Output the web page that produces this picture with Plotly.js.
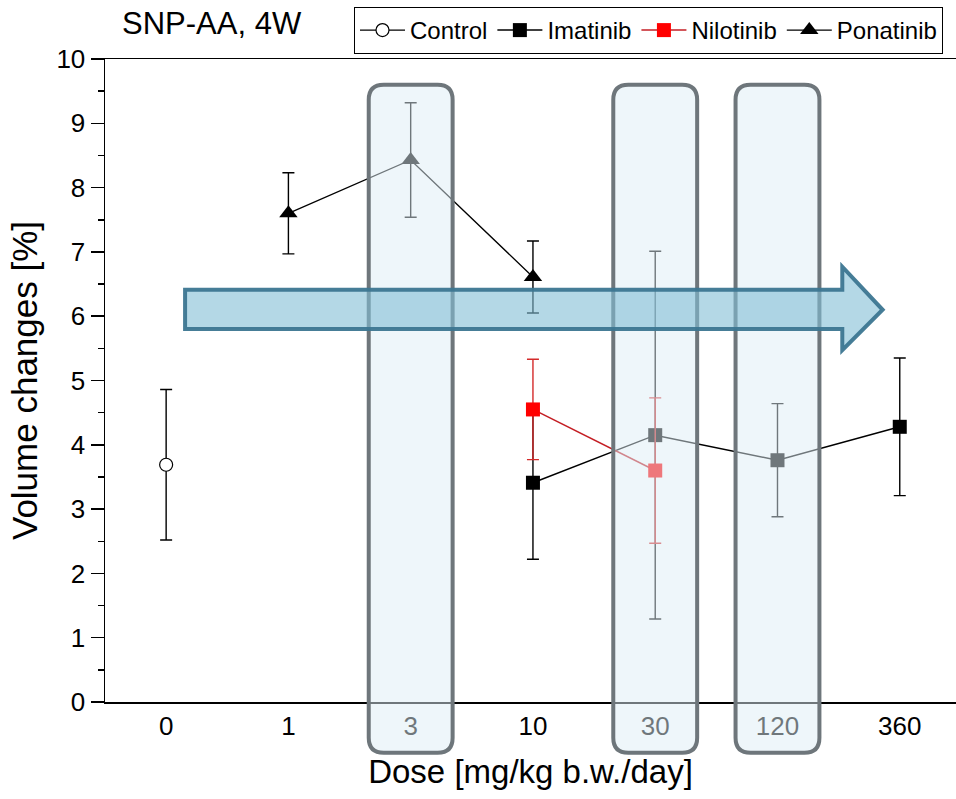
<!DOCTYPE html>
<html>
<head>
<meta charset="utf-8">
<script src="https://cdn.plot.ly/plotly-3.0.1.min.js"></script>
<style>html,body{margin:0;padding:0;background:#fff;}#chart{width:956px;height:799px;}</style>
</head>
<body>
<div id="chart"></div>
<script>
// ---- data ----
const doseLabels = ["0", "1", "3", "10", "30", "120", "360"];

const controlX = ["0"];
const controlY = [3.69];
const controlErr = [1.17];

const imatinibX = ["10", "30", "120", "360"];
const imatinibY = [3.41, 4.15, 3.76, 4.28];
const imatinibErr = [1.19, 2.86, 0.88, 1.07];

const nilotinibX = ["10", "30"];
const nilotinibY = [4.55, 3.60];
const nilotinibErr = [0.78, 1.13];

const ponatinibX = ["1", "3", "10"];
const ponatinibY = [7.60, 8.43, 6.61];
const ponatinibErr = [0.63, 0.89, 0.56];

// highlighted doses (boxes)
const highlightDoses = ["3", "30", "120"];

// ---- layout helpers ----
const FONT = "Arial, 'Liberation Sans', sans-serif";
const xRange = [-0.5, 6.46];
const yRange = [0, 10];
const idx = d => doseLabels.indexOf(d);
const xp = v => (v - xRange[0]) / (xRange[1] - xRange[0]);
const yp = v => (v - yRange[0]) / (yRange[1] - yRange[0]);

function roundRect(x0, x1, y0, y1, rx, ry) {
  const X0 = xp(x0), X1 = xp(x1), Y0 = yp(y0), Y1 = yp(y1);
  return `M ${X0 + rx} ${Y1} L ${X1 - rx} ${Y1} Q ${X1} ${Y1} ${X1} ${Y1 - ry} ` +
         `L ${X1} ${Y0 + ry} Q ${X1} ${Y0} ${X1 - rx} ${Y0} ` +
         `L ${X0 + rx} ${Y0} Q ${X0} ${Y0} ${X0} ${Y0 + ry} ` +
         `L ${X0} ${Y1 - ry} Q ${X0} ${Y1} ${X0 + rx} ${Y1} Z`;
}

const plotW = 851, plotH = 643;
const rx = 15 / plotW, ry = 15 / plotH;

const shapes = highlightDoses.map(d => ({
  type: 'path', xref: 'paper', yref: 'paper', layer: 'above',
  path: roundRect(idx(d) - 0.343, idx(d) + 0.343, -0.79, 9.6, rx, ry),
  fillcolor: 'rgba(222,237,245,0.5)',
  line: {color: '#6e767b', width: 4}
}));

// arrow
const aL = 0.155, aB = 5.53, aT = 5.86;
const bodyTop = 6.41, bodyBot = 5.80, headTop = 6.77, headBot = 5.47, tipY = 6.10;
shapes.push({
  type: 'path', xref: 'paper', yref: 'paper', layer: 'above',
  path: `M ${xp(aL)} ${yp(bodyTop)} L ${xp(aB)} ${yp(bodyTop)} L ${xp(aB)} ${yp(headTop)} ` +
        `L ${xp(aT)} ${yp(tipY)} L ${xp(aB)} ${yp(headBot)} L ${xp(aB)} ${yp(bodyBot)} ` +
        `L ${xp(aL)} ${yp(bodyBot)} Z`,
  fillcolor: 'rgba(130,190,214,0.6)',
  line: {color: 'rgba(60,118,145,0.95)', width: 4}
});

function errY(arr, color) {
  return {type: 'data', array: arr, visible: true, color: color, thickness: 1.4, width: 6};
}
const toIdx = a => a.map(idx);

const traces = [
  {
    name: 'Control', x: toIdx(controlX), y: controlY, type: 'scatter', mode: 'lines+markers',
    line: {color: '#000', width: 1.3},
    marker: {symbol: 'circle', size: 13, color: '#fff', line: {color: '#000', width: 1.2}},
    error_y: errY(controlErr, '#000')
  },
  {
    name: 'Imatinib', x: toIdx(imatinibX), y: imatinibY, type: 'scatter', mode: 'lines+markers',
    line: {color: '#000', width: 1.5},
    marker: {symbol: 'square', size: 14, color: '#000'},
    error_y: errY(imatinibErr, '#000')
  },
  {
    name: 'Nilotinib', x: toIdx(nilotinibX), y: nilotinibY, type: 'scatter', mode: 'lines+markers',
    line: {color: '#c41e24', width: 1.5},
    marker: {symbol: 'square', size: 14, color: '#ff0000'},
    error_y: errY(nilotinibErr, '#d42a2a')
  },
  {
    name: 'Ponatinib', x: toIdx(ponatinibX), y: ponatinibY, type: 'scatter', mode: 'lines+markers',
    line: {color: '#000', width: 1.3},
    marker: {symbol: 'triangle-up', size: 16, color: '#000'},
    error_y: errY(ponatinibErr, '#000')
  }
];

const layout = {
  width: 956, height: 799,
  margin: {l: 105, r: 0, t: 59, b: 97},
  paper_bgcolor: '#fff', plot_bgcolor: '#fff',
  font: {family: FONT, color: '#000'},
  title: {
    text: 'SNP-AA, 4W', font: {size: 31, family: FONT, color: '#000'},
    xref: 'paper', x: 0.02, xanchor: 'left', yref: 'container', y: 1 - 23 / 799, yanchor: 'middle'
  },
  showlegend: true,
  legend: {
    orientation: 'h', x: (354 - 105) / 851, xanchor: 'left', y: 1 + (59 - 7) / 643, yanchor: 'top',
    font: {size: 24, family: FONT, color: '#000'},
    bordercolor: '#000', borderwidth: 1, bgcolor: '#fff',
    itemwidth: 45, tracegroupgap: 0
  },
  xaxis: {
    range: xRange, tickmode: 'array', tickvals: doseLabels.map((_, i) => i), ticktext: doseLabels,
    showline: true, linecolor: '#000', linewidth: 1.5, mirror: true,
    ticks: '', showgrid: false, zeroline: false,
    tickfont: {size: 26, family: FONT, color: '#000'},
    title: {text: 'Dose [mg/kg b.w./day]', font: {size: 33, family: FONT, color: '#000'}, standoff: 20}
  },
  yaxis: {
    range: yRange, dtick: 1, tick0: 0,
    showline: true, linecolor: '#000', linewidth: 1.5,
    ticks: 'outside', ticklen: 13, tickwidth: 1.5, tickcolor: '#000',
    minor: {dtick: 0.5, ticks: 'outside', ticklen: 6, tickwidth: 1.5, tickcolor: '#000', showgrid: false},
    showgrid: false, zeroline: false,
    tickfont: {size: 26, family: FONT, color: '#000'},
    title: {text: 'Volume changes [%]', font: {size: 35, family: FONT, color: '#000'}, standoff: 8}
  },
  shapes: shapes
};

Plotly.newPlot('chart', traces, layout, {displayModeBar: false, staticPlot: true});
</script>
</body>
</html>
